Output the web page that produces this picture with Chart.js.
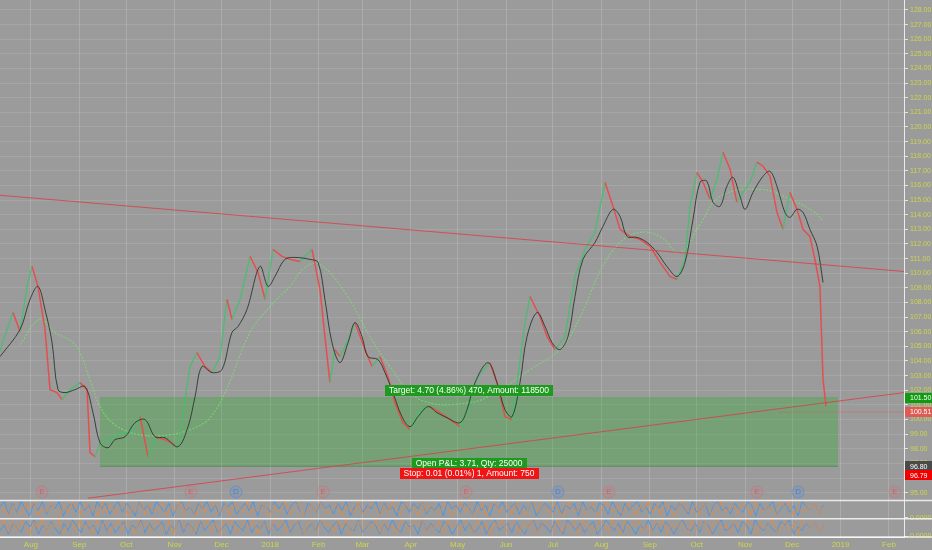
<!DOCTYPE html>
<html>
<head>
<meta charset="utf-8">
<script src="https://cdn.jsdelivr.net/npm/chart.js@4.4.1/dist/chart.umd.min.js"></script>
<style>
  html, body { margin: 0; padding: 0; background: #9b9b9b; overflow: hidden; }
  #wrap { width: 939px; height: 558px; position: absolute; left: -7px; top: -8px; }
</style>
</head>
<body>
<div id="wrap"><canvas id="chart"></canvas></div>
<script>
// x values are days since 1 Jul 2017
const monthDays = [31, 62, 92, 123, 153, 184, 215, 243, 274, 304, 335, 365, 396, 427, 457, 488, 518, 549, 580];
const monthLabels = ['Aug', 'Sep', 'Oct', 'Nov', 'Dec', '2018', 'Feb', 'Mar', 'Apr', 'May', 'Jun', 'Jul', 'Aug', 'Sep', 'Oct', 'Nov', 'Dec', '2019', 'Feb'];
const priceTicks = [95, 96, 97, 98, 99, 100, 101, 102, 103, 104, 105, 106, 107, 108, 109, 110, 111, 112, 113, 114, 115, 116, 117, 118, 119, 120, 121, 122, 123, 124, 125, 126, 127, 128];

const priceDays = [11, 15.7, 19.5, 24, 28.5, 31.7, 35.5, 40, 43.2, 47.7, 50.9, 56, 62.4, 66.9, 68.8, 72, 75.2, 81.6, 88, 94.4,
  100.8, 105.9, 110.4, 116.8, 123.2, 126.4, 129.6, 132.8, 137.2, 142.4, 146.8, 152, 156.4, 159.6, 164.8, 171.2, 176.3, 180.8, 185.9, 191.6,
  196.7, 203.1, 210.8, 215.9, 219.1, 222.3, 225.5, 228.7, 235.1, 238.3, 244.7, 249.2, 254.3, 259.4, 263.9, 269, 273.5, 279.9, 286.3, 292.7,
  299.1, 305.5, 310.6, 317, 324.7, 329.2, 334.3, 338.8, 342.6, 347.1, 350.3, 356.7, 361.2, 366.3, 372.7, 379.1, 385.5, 391.9, 398.3, 403.4,
  407.9, 414.3, 420.7, 427.1, 433.5, 439.9, 444.4, 449.5, 452.7, 457.1, 461, 465.5, 470, 473.8, 478.3, 482.7, 486.6, 491, 495.5, 499.4,
  503.9, 508.3, 512.2, 516.6, 521.1, 525, 529.4, 532.6, 535.8, 537.8, 539.7];
const priceClose = [104.64, 106.15, 107.32, 106.02, 109.10, 110.47, 109.10, 106.15, 102.04, 101.84, 101.36, 102.04, 102.52, 102.04, 97.73, 97.45, 98.41, 98.62, 99.10, 99.10,
  100.19, 97.45, 98.82, 98.62, 98.27, 98.62, 101.36, 103.62, 104.58, 103.62, 103.21, 104.30, 108.21, 106.84, 108.21, 111.15, 110.05, 108.21, 111.63, 111.15,
  110.95, 110.81, 111.63, 108.89, 105.67, 102.52, 104.78, 104.30, 105.67, 106.63, 104.78, 103.62, 104.30, 102.93, 101.15, 99.78, 99.30, 100.67, 100.88, 100.47,
  99.99, 99.51, 100.67, 102.93, 103.89, 102.52, 100.19, 99.99, 102.93, 106.63, 108.41, 107.04, 105.67, 104.78, 105.67, 109.78, 111.63, 112.80, 116.22, 114.58,
  113.00, 112.52, 112.32, 111.84, 110.74, 109.78, 109.58, 110.95, 114.58, 116.90, 116.22, 115.06, 116.43, 118.27, 117.11, 114.85, 115.53, 116.22, 117.59, 117.32,
  116.63, 114.16, 113.00, 115.53, 114.37, 113.00, 112.52, 110.95, 109.10, 102.73, 100.90];

const maDays = [11.2, 24, 30.4, 35.5, 40, 44.5, 48.3, 52.8, 59.2, 65.6, 70.7, 75.2, 80.3, 84.8, 91.2, 97.6, 104, 110.4, 116.8, 125.1,
  131.5, 136, 140.4, 146.8, 153.2, 159.6, 163.5, 169.2, 177.5, 182.7, 187.1, 193.5, 199.9, 209.5, 214.7, 219.1, 223.6, 228.7, 233.9, 238.3,
  242.8, 246.6, 253, 257.5, 262.6, 268.4, 273.5, 278.6, 285, 290.8, 297.2, 305.5, 310, 315.1, 323.4, 329.2, 334.3, 338.8, 343.9, 348.4,
  354.8, 359.9, 364.4, 369.5, 374.6, 379.1, 384.2, 391.9, 397, 403.4, 407.9, 412.4, 418.8, 425.2, 431.5, 437.9, 444.4, 449.5, 454.6, 459.1,
  463.5, 467.4, 471.9, 476.3, 480.2, 484.7, 487.9, 493, 499.4, 503.9, 508.3, 513.4, 516.6, 521.1, 525, 529.4, 534, 537.8];
const maValues = [104.30, 106.15, 108.21, 109.10, 107.52, 105.26, 102.04, 101.84, 102.04, 102.25, 100.47, 98.41, 98.07, 98.62, 98.82, 99.78, 99.99, 98.82, 98.75, 98.14,
  99.51, 101.56, 103.62, 103.21, 103.41, 105.95, 106.36, 107.52, 110.47, 109.10, 109.78, 110.95, 111.08, 110.95, 110.74, 108.21, 105.26, 103.89, 105.26, 106.63,
  105.67, 104.30, 104.10, 103.21, 101.84, 100.19, 99.51, 100.19, 100.88, 100.47, 100.12, 99.78, 100.67, 102.52, 103.89, 102.52, 100.67, 100.19, 102.52, 105.67,
  107.32, 106.36, 105.26, 104.78, 105.67, 108.41, 110.95, 112.11, 113.21, 114.37, 113.89, 112.52, 112.45, 112.11, 111.43, 110.47, 109.78, 110.74, 113.69, 116.22,
  116.29, 114.85, 114.58, 115.95, 116.56, 115.26, 114.37, 115.53, 116.63, 116.97, 115.95, 114.16, 113.82, 114.37, 114.16, 113.00, 111.84, 109.37];

const slowDays = [24, 36.8, 46.4, 59.2, 68.8, 75.2, 84.8, 100.8, 120, 136, 145.6, 155.2, 171.2, 184, 196.7, 206.3, 215.9, 231.9, 247.9, 260.7,
  279.9, 311.9, 331.1, 350.3, 369.5, 382.3, 395.1, 407.9, 420.7, 433.5, 446.3, 459.1, 471.9, 497.5, 516.6, 532.6, 537.8];
const slowValues = [105.12, 106.84, 105.95, 105.12, 102.73, 100.88, 99.64, 98.96, 98.96, 99.44, 100.12, 101.84, 105.95, 107.73, 109.10, 110.40, 110.60, 108.69, 105.67, 103.62,
  101.36, 101.15, 102.04, 103.41, 104.78, 106.97, 110.12, 112.11, 112.80, 112.52, 111.43, 113.34, 115.26, 115.74, 115.06, 114.16, 113.55];

// trend lines [day, price]
const upperTrend = [[11.2, 115.33], [589.6, 110.12]];
const lowerTrend = [[67.5, 94.62], [589.6, 101.84]];

// long position tool
const boxDays = [75.2, 547.4];
const targetPrice = 101.50;
const entryPrice = 96.80;
const stopPrice = 96.79;
const lastPrice = 100.51;
const targetText = 'Target: 4.70 (4.86%) 470, Amount: 118500';
const openText = 'Open P&L: 3.71, Qty: 25000';
const stopText = 'Stop: 0.01 (0.01%) 1, Amount: 750';

// earnings / dividend markers
const eventDays = [38.1, 133.4, 162.2, 217.9, 309.4, 368.2, 400.8, 495.5, 521.8, 583.8];
const eventTypes = ['E', 'E', 'D', 'E', 'E', 'D', 'E', 'E', 'D', 'E'];
const eventLevel = 95.05;

// lower indicator panes (0..9 levels)
const blueOsc = [6,9,2,8,3,9,5,1,8,4,9,2,7,5,9,1,6,8,3,9,4,7,1,9,5,8,2,6,9,3,8,5,1,9,4,7,2,9,6,3,
  8,1,7,9,4,6,2,8,5,9,3,7,1,8,6,9,2,5,8,4,9,1,7,6,3,9,5,8,2,7,9,4,1,8,6,3,9,5,7,2,
  8,4,9,1,6,8,3,7,5,9,2,8,4,6,1,9,7,3,8,5,9,2,6,4,8,1,9,5,7,3,8,6,2,9,4,7,1,8,5,9,
  3,6,8,2,7,4,9,1,5,8,6,3,9,2,7,5,8,1,9,4,6,3,8,7,2,9,5,1,8,4,7,9,3,6,2,8,5,9,1,7,
  4,8,6,2,9,3,5,8,1,7,9,4,6,2,8,5,3,9,7,1,8,4,6,9,2,5,8,3,7,1,9,6,4,8,2,7];
const orangeOsc = [3,6,1,7,4,2,8,5,9,1,6,3,8,4,1,7,3,9,5,2,8,4,6,1,9,3,7,2,5,8,1,6,4,9,2,7,3,5,8,1,
  6,4,9,2,7,5,1,8,3,6,9,2,4,7,1,8,5,3,9,2,6,4,8,1,7,3,5,9,2,6,8,1,4,7,3,9,5,2,6,8,
  1,7,4,3,9,2,5,8,6,1,7,3,9,4,2,8,5,6,1,9,3,7,4,2,8,6,1,5,9,3,7,2,4,8,1,6,9,3,5,7,
  2,8,4,1,6,9,3,7,5,2,8,4,1,9,6,3,7,2,5,8,1,4,9,6,3,7,2,8,5,1,6,4,9,3,7,2,8,5,1,6,
  9,4,3,7,2,8,6,1,5,9,3,4,7,2,8,6,1,9,5,3,7,4,2,8,6,9,1,5,3,7,4,8,2,6];
const oscFirstDay = 11.2, oscLastDay = 538;

const AXIS_TEXT = '#ccd64a';
const FONT = "'Liberation Sans', Arial, sans-serif";

function pts(xs, ys) { return xs.map((x, i) => ({ x, y: ys[i] })); }
function pairs(arr) { return arr.map(p => ({ x: p[0], y: p[1] })); }
function oscPts(vals) {
  const step = (oscLastDay - oscFirstDay) / (vals.length - 1);
  return vals.map((v, i) => ({ x: oscFirstDay + i * step, y: v }));
}

const overlay = {
  id: 'overlay',
  afterDraw(chart) {
    const { ctx, chartArea, scales } = chart;
    const xs = scales.x, ys = scales.y;
    ctx.save();

    // pane separators
    ctx.strokeStyle = 'rgba(255,255,255,0.8)';
    ctx.lineWidth = 1.5;
    [scales.y2.top, scales.y3.top, scales.y3.bottom].forEach(yy => {
      ctx.beginPath(); ctx.moveTo(0, yy); ctx.lineTo(chart.width, yy); ctx.stroke();
    });

    // event letters
    ctx.font = '8px ' + FONT;
    ctx.textAlign = 'center';
    ctx.textBaseline = 'middle';
    eventDays.forEach((d, i) => {
      ctx.fillStyle = eventTypes[i] === 'D' ? 'rgba(60,130,220,0.95)' : 'rgba(225,80,90,0.8)';
      ctx.fillText(eventTypes[i], xs.getPixelForValue(d), ys.getPixelForValue(eventLevel));
    });

    // trade labels
    const midX = xs.getPixelForValue((boxDays[0] + boxDays[1]) / 2);
    function tag(text, cx, cy, bg) {
      ctx.font = '8.5px ' + FONT;
      const w = ctx.measureText(text).width + 8;
      ctx.fillStyle = bg;
      ctx.fillRect(Math.round(cx - w / 2), Math.round(cy - 5.5), Math.round(w), 11);
      ctx.fillStyle = '#ffffff';
      ctx.fillText(text, cx, cy + 0.5);
    }
    tag(targetText, midX, ys.getPixelForValue(targetPrice) - 7, '#1e9a1e');
    tag(openText, midX, ys.getPixelForValue(entryPrice) - 3, '#1e9a1e');
    tag(stopText, midX, ys.getPixelForValue(stopPrice) + 7, '#f01414');

    // price labels on the right axis
    function axisTag(text, yy, bg) {
      ctx.fillStyle = bg;
      ctx.fillRect(chartArea.right + 1, Math.round(yy - 5), chart.width - chartArea.right - 1, 10);
      ctx.fillStyle = '#ffffff';
      ctx.font = '7px ' + FONT;
      ctx.textAlign = 'left';
      ctx.fillText(text, chartArea.right + 6, yy + 0.5);
    }
    axisTag(targetPrice.toFixed(2), ys.getPixelForValue(targetPrice), '#0f9a0f');
    axisTag(lastPrice.toFixed(2), ys.getPixelForValue(lastPrice), '#de5b55');
    axisTag(entryPrice.toFixed(2), ys.getPixelForValue(entryPrice), '#4a4a4a');
    axisTag(stopPrice.toFixed(2), ys.getPixelForValue(stopPrice) + 9, '#f20000');
    ctx.restore();
  }
};

const fitY = s => { s.width = 28; };
const fitX = s => { s.height = 13; };

const lowerAxis = () => ({
  type: 'linear', position: 'right', stack: 'panes', stackWeight: 1,
  min: -0.5, max: 9.5,
  afterBuildTicks: s => { s.ticks = [{ value: 0 }]; },
  afterFit: fitY,
  ticks: { color: AXIS_TEXT, padding: 2, autoSkip: false, font: { size: 7, family: FONT }, callback: () => '0.0000' },
  grid: { display: true, drawOnChartArea: false, tickLength: 4, tickColor: 'rgba(255,255,255,0.7)' },
  border: { color: 'rgba(255,255,255,0.8)' }
});

new Chart(document.getElementById('chart'), {
  type: 'line',
  data: {
    datasets: [
      {
        label: 'Target zone',
        data: pairs([[boxDays[0], targetPrice], [boxDays[1], targetPrice]]),
        borderColor: 'rgba(60,170,60,0.25)', borderWidth: 1, pointRadius: 0,
        fill: '+1', backgroundColor: 'rgba(40,170,40,0.32)', yAxisID: 'y', order: 10
      },
      {
        label: 'Entry',
        data: pairs([[boxDays[0], entryPrice], [boxDays[1], entryPrice]]),
        borderColor: 'rgba(40,110,40,0.45)', borderWidth: 1, pointRadius: 0, fill: false, yAxisID: 'y', order: 10
      },
      {
        label: 'Last',
        data: pairs([[509, lastPrice], [589.6, lastPrice]]),
        borderColor: 'rgba(230,80,80,0.35)', borderWidth: 1, pointRadius: 0, yAxisID: 'y', order: 9
      },
      {
        label: 'Slow MA',
        data: pts(slowDays, slowValues),
        borderColor: 'rgba(120,225,110,0.75)', borderWidth: 1.2, borderDash: [2, 1.5],
        pointRadius: 0, tension: 0.4, yAxisID: 'y', order: 5
      },
      {
        label: 'Price',
        data: pts(priceDays, priceClose),
        borderWidth: 1.5, pointRadius: 0, tension: 0, yAxisID: 'y', order: 3,
        borderColor: 'rgba(235,75,75,0.85)',
        segment: {
          borderColor: c => c.p1.parsed.y >= c.p0.parsed.y ? 'rgba(70,190,110,0.8)' : 'rgba(238,70,70,0.9)'
        }
      },
      {
        label: 'MA',
        data: pts(maDays, maValues),
        borderColor: 'rgba(35,50,40,0.85)', borderWidth: 1, pointRadius: 0, tension: 0.35, yAxisID: 'y', order: 2
      },
      {
        label: 'Upper trend',
        data: pairs(upperTrend),
        borderColor: 'rgba(220,60,70,0.8)', borderWidth: 1, pointRadius: 0, yAxisID: 'y', order: 1
      },
      {
        label: 'Lower trend',
        data: pairs(lowerTrend),
        borderColor: 'rgba(220,60,70,0.8)', borderWidth: 1, pointRadius: 0, yAxisID: 'y', order: 1
      },
      {
        label: 'Events',
        type: 'scatter',
        data: eventDays.map(d => ({ x: d, y: eventLevel })),
        pointRadius: 6, pointBorderWidth: 1,
        pointBackgroundColor: eventTypes.map(t => t === 'D' ? 'rgba(80,140,230,0.18)' : 'rgba(230,100,110,0.12)'),
        pointBorderColor: eventTypes.map(t => t === 'D' ? 'rgba(70,130,220,0.45)' : 'rgba(230,90,100,0.3)'),
        yAxisID: 'y', order: 0
      },
      {
        label: 'Osc A orange',
        data: oscPts(orangeOsc), borderColor: 'rgba(225,140,70,0.9)', borderWidth: 1, pointRadius: 0, yAxisID: 'y2'
      },
      {
        label: 'Osc A blue',
        data: oscPts(blueOsc), borderColor: 'rgba(70,150,235,0.9)', borderWidth: 1, pointRadius: 0, yAxisID: 'y2'
      },
      {
        label: 'Osc B orange',
        data: oscPts(blueOsc), borderColor: 'rgba(225,140,70,0.9)', borderWidth: 1, pointRadius: 0, yAxisID: 'y3'
      },
      {
        label: 'Osc B blue',
        data: oscPts(orangeOsc), borderColor: 'rgba(70,150,235,0.9)', borderWidth: 1, pointRadius: 0, yAxisID: 'y3'
      }
    ]
  },
  options: {
    responsive: true,
    maintainAspectRatio: false,
    animation: false,
    layout: { padding: 0 },
    plugins: { legend: { display: false }, tooltip: { enabled: false } },
    scales: {
      x: {
        type: 'linear', position: 'bottom', min: 11.2, max: 589.6,
        afterBuildTicks: s => { s.ticks = monthDays.map(v => ({ value: v })); },
        afterFit: fitX,
        ticks: {
          autoSkip: false, maxRotation: 0, padding: 3, color: AXIS_TEXT,
          font: { size: 8, family: FONT },
          callback: (v, i) => monthLabels[i]
        },
        grid: { color: 'rgba(255,255,255,0.17)', drawTicks: false },
        border: { display: true, color: 'rgba(255,255,255,0.8)' }
      },
      y: {
        type: 'linear', position: 'right', stack: 'panes', stackWeight: 27.5,
        min: 94.46, max: 128.75,
        afterBuildTicks: s => { s.ticks = priceTicks.map(v => ({ value: v })); },
        afterFit: fitY,
        ticks: {
          color: AXIS_TEXT, padding: 2, autoSkip: false, font: { size: 7, family: FONT },
          callback: v => v.toFixed(2)
        },
        grid: { color: 'rgba(255,255,255,0.1)', tickLength: 4, tickColor: 'rgba(255,255,255,0.7)' },
        border: { color: 'rgba(255,255,255,0.8)' }
      },
      y2: lowerAxis(),
      y3: lowerAxis()
    }
  },
  plugins: [overlay]
});
</script>
</body>
</html>
